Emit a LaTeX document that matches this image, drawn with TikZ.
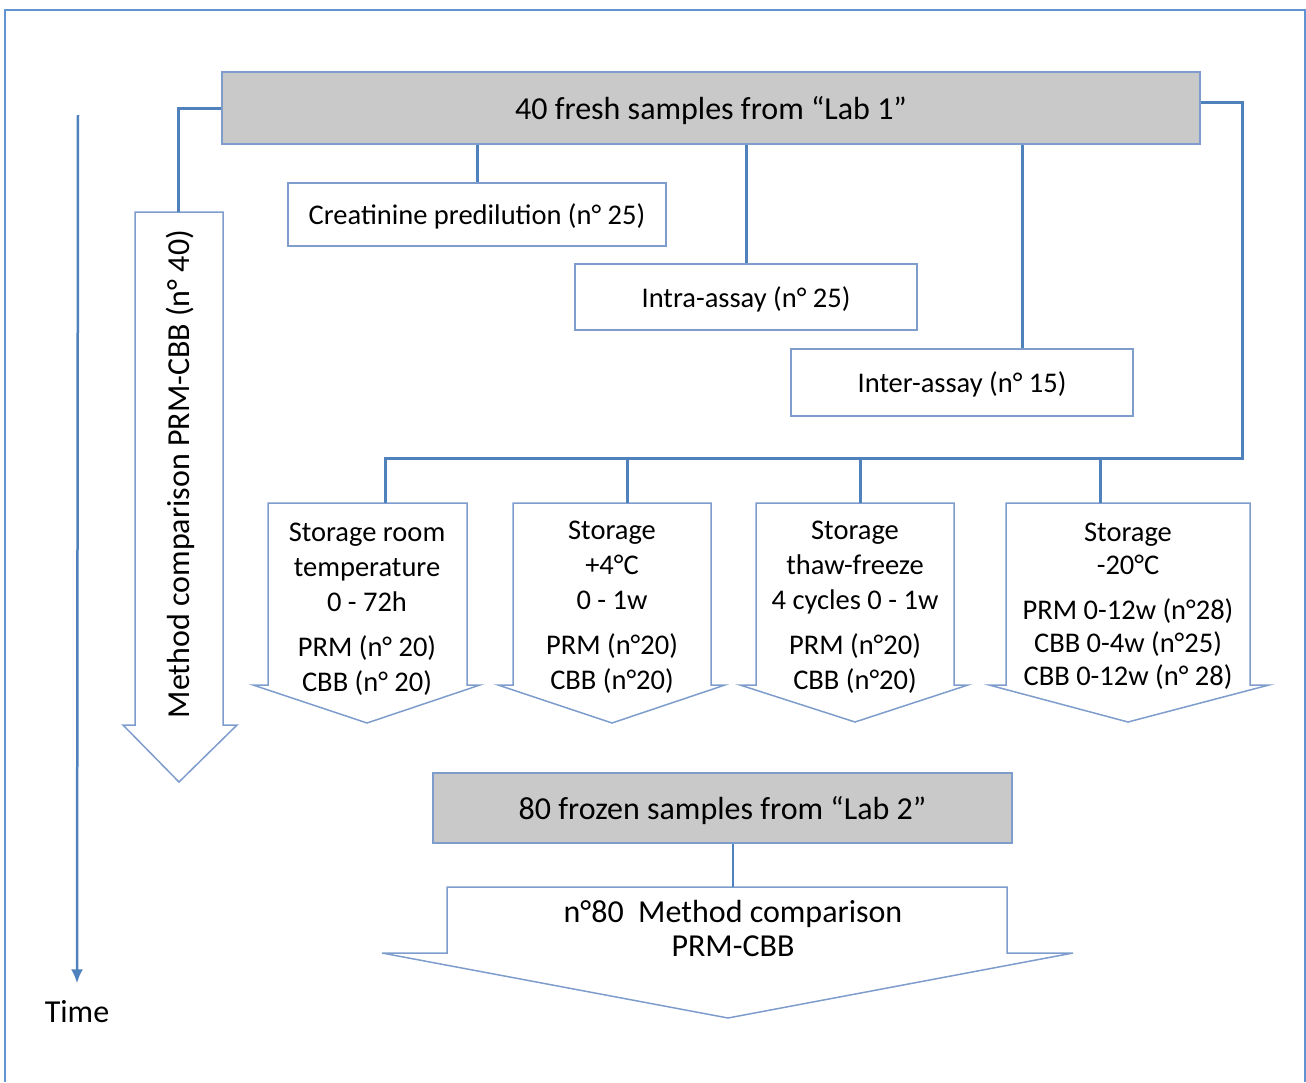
\documentclass[tikz,border=0pt]{standalone}
\usepackage{fontspec}
\setmainfont{Carlito}
\usetikzlibrary{arrows.meta,positioning}
\definecolor{lineblue}{RGB}{79,129,189}
\definecolor{edgeblue}{RGB}{126,157,204}
\definecolor{frameblue}{RGB}{98,148,212}
\definecolor{boxgray}{RGB}{201,201,201}
\tikzset{
  labbox/.style={draw=edgeblue, line width=1.5pt, fill=boxgray, font=\fontsize{32}{38}\selectfont, inner sep=0pt, text depth=0pt},
  testbox/.style={draw=edgeblue, line width=1.5pt, fill=white, font=\fontsize{28.5}{35}\selectfont, inner sep=0pt, text depth=0pt},
  fatarrow/.style={draw=edgeblue, line width=1.5pt, fill=white, line join=miter},
  arrowtxt/.style={font=\fontsize{28.5}{35}\selectfont, align=center},
  bigtxt/.style={font=\fontsize{32}{34}\selectfont, align=center},
  link/.style={draw=lineblue, line width=3pt},
}
\begin{document}
\begin{tikzpicture}[x=1pt, y=-1pt]
\useasboundingbox (0,0) rectangle (1306,1082);
% Frame
\draw[frameblue, line width=2pt] (5,1082) -- (5,10) -- (1305,10) -- (1305,1082);

% Time axis
\node[bigtxt] (time) at (77,1012) {Time};
\coordinate (tstart) at (78,115);
\draw[lineblue, line width=2.5pt, -{Latex[length=14pt,width=12pt]}] (tstart) -- ([yshift=14pt]time.north);

% Fresh samples and the three tests
\node[labbox, minimum width=978pt, minimum height=72pt] (lab1) at (711,108) {40 fresh samples from “Lab 1”};
\node[testbox, minimum width=378pt, minimum height=63pt] (creat) at (477,214.5) {Creatinine predilution (n° 25)};
\node[testbox, minimum width=342pt, minimum height=66pt] (intra) at (746,297) {Intra-assay (n° 25)};
\node[testbox, minimum width=342pt, minimum height=67pt] (inter) at (962,382.5) {Inter-assay (n° 15)};
\coordinate (interin) at ([xshift=60pt]inter.north);
\draw[link] (lab1.south -| creat.north) -- (creat.north);
\draw[link] (lab1.south -| intra.north) -- (intra.north);
\draw[link] (interin |- lab1.south) -- (interin);

% Method comparison arrow
\draw[fatarrow] (135,212) -- (223,212) -- (223,725) -- (237,725) -- (179,782) -- (123,725) -- (135,725) -- cycle;
\node[bigtxt, rotate=90] (mcomp) at (180,474) {Method comparison PRM-CBB (n° 40)};
\coordinate (mctop) at (178,212);
\draw[link] (lab1.west) -| (mctop);

% Storage arrows
\draw[fatarrow] (268,503) -- (467,503) -- (467,685) -- (480,685) -- (367,723) -- (253,685) -- (268,685) -- cycle;
\node[arrowtxt] (st1) at (367,609) {Storage room\\temperature\\0 - 72h\\[10pt]PRM (n° 20)\\CBB (n° 20)};
\draw[fatarrow] (513,503) -- (711,503) -- (711,685) -- (725,685) -- (612,723) -- (498,685) -- (513,685) -- cycle;
\node[arrowtxt] (st2) at (612,607) {Storage\\+4°C\\0 - 1w\\[10pt]PRM (n°20)\\CBB (n°20)};
\draw[fatarrow] (756,503) -- (954,503) -- (954,685) -- (968,685) -- (855,722) -- (740,685) -- (756,685) -- cycle;
\node[arrowtxt] (st3) at (855,607) {Storage\\thaw-freeze\\4 cycles 0 - 1w\\[10pt]PRM (n°20)\\CBB (n°20)};
\draw[fatarrow] (1006,503) -- (1250,503) -- (1250,685) -- (1269,685) -- (1128,722) -- (989,685) -- (1006,685) -- cycle;
\node[arrowtxt, font=\fontsize{28.5}{33}\selectfont] (st4) at (1128,606) {Storage\\-20°C\\[12pt]PRM 0-12w (n°28)\\CBB 0-4w (n°25)\\CBB 0-12w (n° 28)};
\coordinate (st1top) at (385,503);
\coordinate (st2top) at (627,503);
\coordinate (st3top) at (860,503);
\coordinate (st4top) at (1100,503);
\coordinate (bus) at (1242,458);
\draw[link] ([yshift=6pt]lab1.east) -| (bus) -| (st1top);
\draw[link] (st2top |- bus) -- (st2top);
\draw[link] (st3top |- bus) -- (st3top);
\draw[link] (st4top |- bus) -- (st4top);

% Frozen samples
\node[labbox, minimum width=579pt, minimum height=70pt] (lab2) at (722.5,808) {80 frozen samples from “Lab 2”};
\draw[fatarrow] (447,887) -- (1007,887) -- (1007,953) -- (1073,953) -- (728,1018) -- (382,953) -- (447,953) -- cycle;
\node[bigtxt] (cmp) at (733,928) {n°80~ Method comparison\\PRM-CBB};
\coordinate (cmptop) at (733,887);
\draw[link, line width=2pt] (lab2.south -| cmptop) -- (cmptop);
\end{tikzpicture}
\end{document}
